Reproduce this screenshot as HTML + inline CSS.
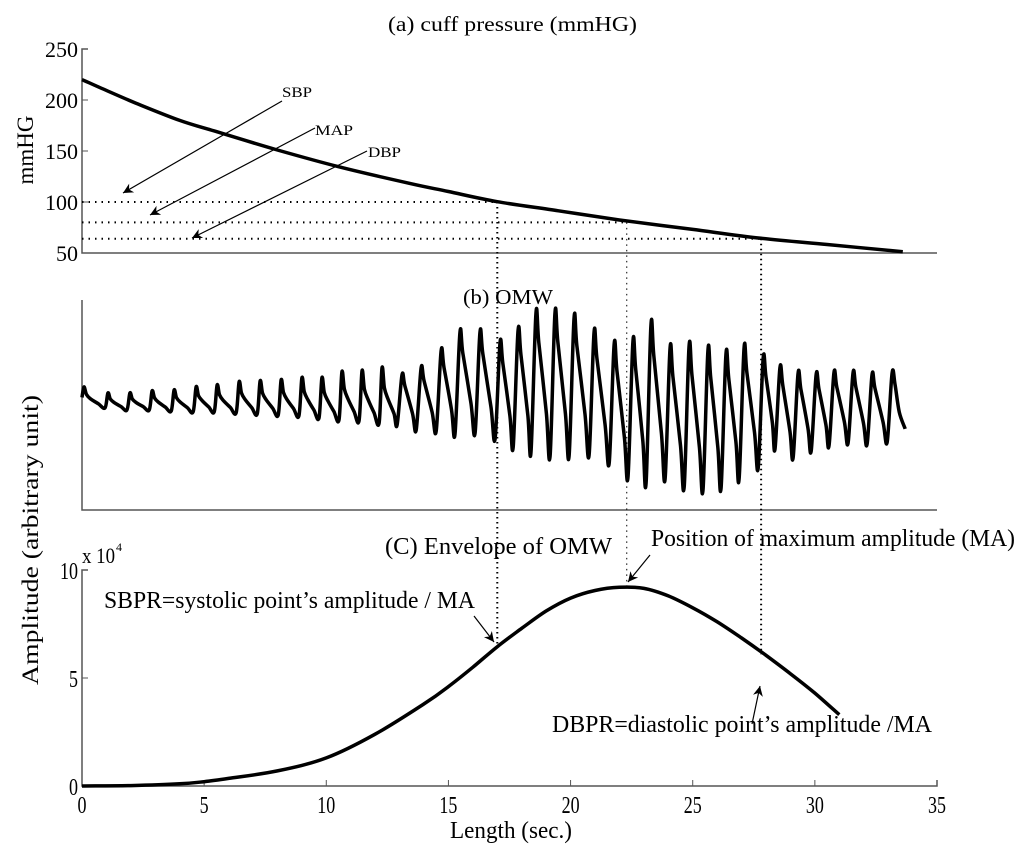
<!DOCTYPE html>
<html><head><meta charset="utf-8"><style>
body{margin:0;background:#fff}
svg text{font-family:"Liberation Serif",serif;fill:#000}
</style></head><body>
<svg id="chart" width="1024" height="857" xmlns="http://www.w3.org/2000/svg">
<defs><marker id="ah" viewBox="0 0 10 10" refX="10" refY="5" markerWidth="14" markerHeight="10" orient="auto" markerUnits="userSpaceOnUse"><path d="M0,0 L10,5 L0,10 L3,5 z" fill="#000"/></marker></defs>
<g id="pa"></g>
<g id="pb"></g>
<g id="pc"></g>
<g id="ann"></g>
</svg>
<script>
// Panel (a) cuff pressure
const pTimes=[0,0.8,2.2,4,5.5,8,10.5,13.4,15,17,19.5,22,25,27.8,30.5,33.6];
const pValues=[220,211.5,197,180,169,151,134.6,118.3,110.3,100.3,91.4,82.4,73.1,64.4,58.3,51.3];
const aTicks=[50,100,150,200,250];
// Panel (b) OMW beats
const beatTimes=[0.08,1.06,1.96,2.87,3.77,4.67,5.53,6.43,7.29,8.15,9.0,9.82,10.64,11.46,12.28,13.1,13.88,14.7,15.47,16.29,17.11,17.85,18.58,19.36,20.14,20.96,21.78,22.55,23.29,24.07,24.85,25.62,26.36,27.1,27.88,28.57,29.31,30.05,30.78,31.56,32.34,33.16];
const peakVals=[58.6,55.7,55.7,56.7,57.1,58.6,59.5,61,61.4,61.9,62.9,62.9,65.7,66.2,67.6,64.3,67.6,75.7,84.3,84.3,79.5,85.2,93.3,93.3,91,84.3,78.6,80,87.6,76.7,77.6,75.7,73.8,76.7,71.9,67.6,64.8,64.3,65.2,65.2,64.3,65.2];
const troughVals=[48.6,47.6,47.6,47.1,46.7,46.7,46.2,45.7,45.2,44.8,43.8,42.9,42.4,41.4,40.5,38.1,37.6,36.2,36.7,33.8,30,27.6,25.7,25.7,26.2,22.4,15.7,12.9,14.8,11,9.5,10.5,14.8,20,29,24.8,28.1,30.5,31.9,31.4,32.4];
const omwEnd=[33.7,38.6];
// Panel (c) envelope (x10^4)
const eTimes=[0,2,4,5,6,8,10,12,14,15,16,17,18,19,20,21,22,23,24,25,26,27,28,29,30,31];
const eValues=[0,0.02,0.1,0.2,0.35,0.7,1.3,2.4,3.8,4.6,5.5,6.45,7.3,8.1,8.7,9.05,9.2,9.15,8.8,8.25,7.6,6.85,6.05,5.2,4.3,3.3];
const xTicks=[0,5,10,15,20,25,30,35];
const cTicks=[0,5,10];
const markTimes=[17.0,22.3,27.8];
const markPress=[100,80,64];
const markEnv=[6.45,9.2,6.1];

const NS="http://www.w3.org/2000/svg";
const X=t=>82+t*(855/35);
const YA=v=>253-(v-50)*(204/200);
const YB=v=>510-v*2.1;
const YC=v=>786-v*21.6;
function el(p,tag,at,txt){const e=document.createElementNS(NS,tag);for(const k in at)e.setAttribute(k,at[k]);if(txt!=null)e.textContent=txt;document.getElementById(p).appendChild(e);return e;}
function smooth(P){let d='M'+P[0][0].toFixed(1)+','+P[0][1].toFixed(1);
 for(let i=0;i<P.length-1;i++){const p0=P[i-1]||P[i],p1=P[i],p2=P[i+1],p3=P[i+2]||p2;
  const c1=[p1[0]+(p2[0]-p0[0])/6,p1[1]+(p2[1]-p0[1])/6],c2=[p2[0]-(p3[0]-p1[0])/6,p2[1]-(p3[1]-p1[1])/6];
  d+=` C${c1[0].toFixed(1)},${c1[1].toFixed(1)} ${c2[0].toFixed(1)},${c2[1].toFixed(1)} ${p2[0].toFixed(1)},${p2[1].toFixed(1)}`;}
 return d;}
const pa='pa',pb='pb',pc='pc',an='ann';
const TL=(o)=>({textLength:o,lengthAdjust:'spacingAndGlyphs'});

// axes a
let e=el(pa,'path',{d:`M88,49 H82 V253 H937`,fill:'none',stroke:'#555','stroke-width':1.5});


aTicks.forEach(v=>{let t=el(pa,'line',{x1:82,x2:88,y1:YA(v),y2:YA(v),stroke:'#555'});


let l=el(pa,'text',{x:78,y:YA(v)+8,'text-anchor':'end','font-size':22},v);

});
e=el(pa,'text',{x:0,y:0,'font-size':23,'text-anchor':'middle',transform:'translate(33,150) rotate(-90)'},'mmHG');


e=el(pa,'text',Object.assign({x:388,y:31,'font-size':21},TL(249)),'(a) cuff pressure (mmHG)');


e=el(pa,'path',{d:smooth(pTimes.map((t,i)=>[X(t),YA(pValues[i])])),fill:'none',stroke:'#000','stroke-width':3.5});



// panel b
e=el(pb,'path',{d:`M82,300 V510 H937`,fill:'none',stroke:'#555','stroke-width':1.5});


e=el(pb,'text',Object.assign({x:463,y:304,'font-size':21},TL(90)),'(b) OMW');


let pts=[];
beatTimes.forEach((t,i)=>{
 const pk=peakVals[i];
 const nt=i<beatTimes.length-1?beatTimes[i+1]:omwEnd[0];
 const nv=i<troughVals.length?troughVals[i]:omwEnd[1];
 const late=t>12.9;
 if(i>0) pts.push([t-(late?0.2:0.12),troughVals[i-1]]);
 else pts.push([t-0.08,(pk+nv)/2]);
 pts.push([t,pk]);
 if(late){
  pts.push([t+0.12,pk-(pk-nv)*0.2]);
  pts.push([t+(nt-t)*0.55,nv+(pk-nv)*0.3]);
 } else {
  pts.push([t+0.1,pk-(pk-nv)*0.35]);
  pts.push([t+0.25,pk-(pk-nv)*0.55]);
  pts.push([t+(nt-t)*0.6,nv+(pk-nv)*0.2]);
 }
 if(i===beatTimes.length-1)pts.push([nt,nv]);
});
e=el(pb,'path',{d:smooth(pts.map(p=>[X(p[0]),YB(p[1])])),fill:'none',stroke:'#000','stroke-width':3.5,'stroke-linejoin':'round'});



// panel c
e=el(pc,'path',{d:`M88,570 H82 V786 H937 V780`,fill:'none',stroke:'#555','stroke-width':1.5});


xTicks.forEach(v=>{let t=el(pc,'line',{x1:X(v),x2:X(v),y1:786,y2:780,stroke:'#555'});


const w=String(v).length*9;
let l=el(pc,'text',Object.assign({x:X(v)-w/2,y:813,'font-size':24},TL(w)),v);

});
cTicks.forEach(v=>{let t=el(pc,'line',{x1:82,x2:88,y1:YC(v),y2:YC(v),stroke:'#555'});


const w=String(v).length*9;
let l=el(pc,'text',Object.assign({x:78-w,y:YC(v)+9,'font-size':24},TL(w)),v);

});
e=el(pc,'text',Object.assign({x:82,y:563,'font-size':22},TL(33)),'x 10');


e=el(pc,'text',{x:116,y:551,'font-size':12},'4');


e=el(pc,'text',Object.assign({x:450,y:838,'font-size':24},TL(122)),'Length (sec.)');


e=el(pc,'text',Object.assign({x:0,y:0,'font-size':23,'text-anchor':'middle',transform:'translate(38,540) rotate(-90)'},TL(290)),'Amplitude (arbitrary unit)');


e=el(pc,'text',Object.assign({x:385,y:554,'font-size':24},TL(227)),'(C) Envelope of OMW');


e=el(pc,'path',{d:smooth(eTimes.map((t,i)=>[X(t),YC(eValues[i])])),fill:'none',stroke:'#000','stroke-width':3.5,'stroke-linejoin':'round'});



// markers
markTimes.forEach((t,i)=>{
 let h=el(an,'line',{x1:82,x2:X(t),y1:YA(markPress[i]),y2:YA(markPress[i]),stroke:'#000','stroke-width':2,'stroke-dasharray':'1.5,5'});
 
 
 let v=el(an,'line',{x1:X(t),x2:X(t),y1:YA(markPress[i]),y2:YC(markEnv[i]),stroke:'#000','stroke-width':i==1?1:2,'stroke-dasharray':i==1?'1.5,4':'1.5,3.5'});
 
 
});
const arrows=[[282,101,123,193],[315,128,150,215],[367,151,192,238],[474,616,494,642],[650,555,628,582],[752,724,760,686]];
arrows.forEach(a=>{let l=el(an,'line',{x1:a[0],y1:a[1],x2:a[2],y2:a[3],stroke:'#000','stroke-width':1.2,'marker-end':'url(#ah)'});

});
const labels=[[282,97,'SBP',15,30],[315,135,'MAP',15,38],[368,157,'DBP',15,33],[104,608,'SBPR=systolic point\u2019s amplitude / MA',24,371],[651,546,'Position of maximum amplitude (MA)',24,364],[552,732,'DBPR=diastolic point\u2019s amplitude /MA',24,380]];
labels.forEach(s=>{let t=el(an,'text',Object.assign({x:s[0],y:s[1],'font-size':s[3]},TL(s[4])),s[2]);

});
</script>
</body></html>
